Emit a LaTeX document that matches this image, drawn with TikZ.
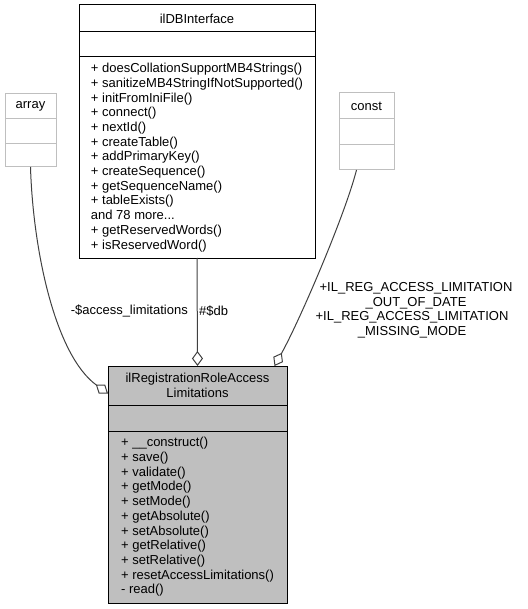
\documentclass[tikz,border=0pt]{standalone}
\usepackage{fontspec}
\setmainfont{Liberation Sans}
\usetikzlibrary{arrows.meta, positioning}

\definecolor{boxgray}{HTML}{BFBFBF}
\definecolor{edgegray}{HTML}{404040}

\tikzset{
    part/.style={draw, line width=1pt, inner sep=0pt, outer sep=0pt, anchor=north west,
        font=\fontsize{13}{14.7}\selectfont},
    lbl/.style={inner sep=0pt, font=\fontsize{13}{14.7}\selectfont},
    agg/.style={draw=edgegray, line width=1pt, -{Diamond[open, length=15pt, width=11pt]}}
}

\begin{document}
\begin{tikzpicture}[x=1pt, y=-1pt]
    \useasboundingbox (0,0) rectangle (527,609);

    % Nodes
    \node[part, fill=boxgray, minimum width=179pt, minimum height=39pt, align=center] (regT) at (108,366)
        {ilRegistrationRoleAccess\\Limitations};
    \node[part, fill=boxgray, minimum width=179pt, minimum height=26pt, below=0pt of regT] (regA) {};
    \node[part, fill=boxgray, minimum width=179pt, minimum height=172pt, align=left, below=0pt of regA] (regM)
        {+ \_\_construct()\\+ save()\\+ validate()\\+ getMode()\\+ setMode()\\+ getAbsolute()\\+ setAbsolute()\\+ getRelative()\\+ setRelative()\\+ resetAccessLimitations()\\- read()};

    \node[part, minimum width=236pt, minimum height=27pt] (dbiT) at (79,5) {ilDBInterface};
    \node[part, minimum width=236pt, minimum height=25pt, below=0pt of dbiT] (dbiA) {};
    \node[part, minimum width=236pt, minimum height=201pt, align=left, below=0pt of dbiA] (dbiM)
        {+ doesCollationSupportMB4Strings()\\+ sanitizeMB4StringIfNotSupported()\\+ initFromIniFile()\\+ connect()\\+ nextId()\\+ createTable()\\+ addPrimaryKey()\\+ createSequence()\\+ getSequenceName()\\+ tableExists()\\and 78 more...\\+ getReservedWords()\\+ isReservedWord()};

    \node[part, draw=boxgray, minimum width=51pt, minimum height=25pt] (arrT) at (5,94) {array};
    \node[part, draw=boxgray, minimum width=51pt, minimum height=25pt, below=0pt of arrT] (arrA) {};
    \node[part, draw=boxgray, minimum width=51pt, minimum height=23pt, below=0pt of arrA] (arrM) {};

    \node[part, draw=boxgray, minimum width=55pt, minimum height=26pt] (conT) at (339,93) {const};
    \node[part, draw=boxgray, minimum width=55pt, minimum height=26pt, below=0pt of conT] (conA) {};
    \node[part, draw=boxgray, minimum width=55pt, minimum height=25pt, below=0pt of conA] (conM) {};

    % Aggregation arrows
    \draw[agg] (arrM.south) .. controls (33,250) and (55,355) .. ([yshift=-8pt]regT.west);
    \draw[agg] (dbiM.south) -- (regT.north);
    \draw[agg] ([xshift=-10pt]conM.south) .. controls (345,215) and (300,320) .. ([xshift=77pt]regT.north);

    % Labels for members
    \node[lbl, anchor=east] (lAcc) at (188,311) {-\$access\_limitations};
    \node[lbl, anchor=west] (lDb) at (199,311) {\#\$db};
    \node[lbl, align=center] (lOut) at (416,295.5) {+IL\_REG\_ACCESS\_LIMITATION\\\_OUT\_OF\_DATE};
    \node[lbl, align=center] (lMis) at (412,325) {+IL\_REG\_ACCESS\_LIMITATION\\\_MISSING\_MODE};
\end{tikzpicture}
\end{document}
